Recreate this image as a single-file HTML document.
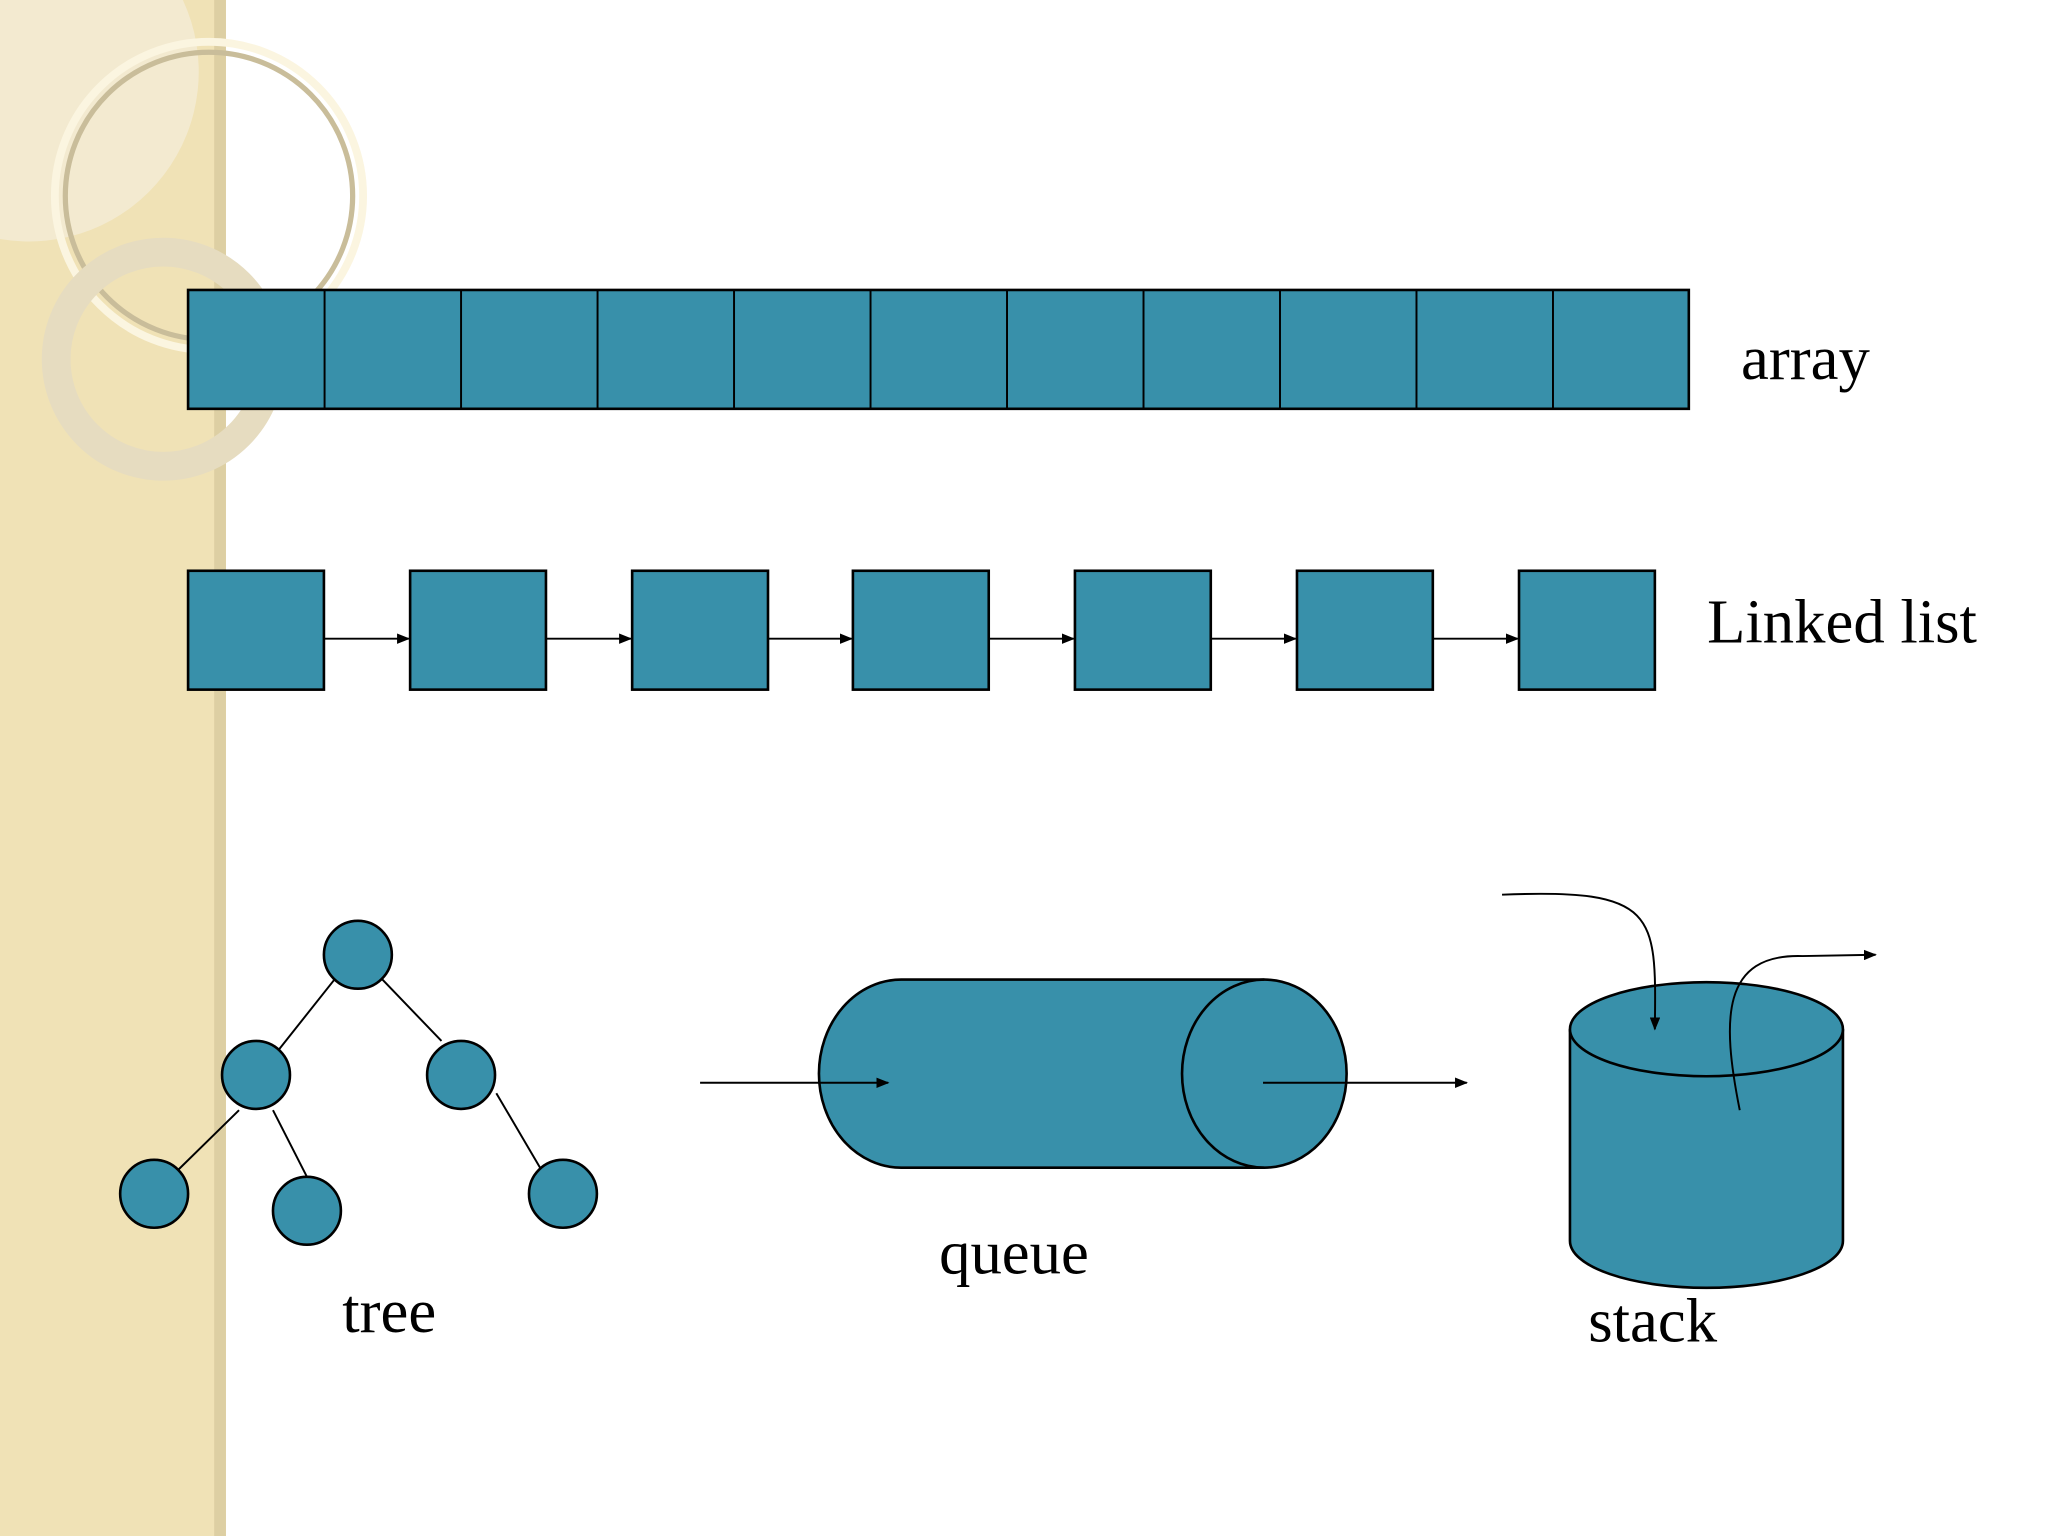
<!DOCTYPE html>
<html><head><meta charset="utf-8"><style>html,body{margin:0;padding:0;background:#fff}svg{display:block}</style></head><body>
<svg width="2048" height="1536" viewBox="0 0 1568 1176" xmlns="http://www.w3.org/2000/svg">
<defs><marker id="a" markerWidth="10" markerHeight="8" refX="9" refY="4" orient="auto" markerUnits="userSpaceOnUse"><path d="M0,0L10,4L0,8z" fill="#000"/></marker></defs>
<rect x="0" y="0" width="173" height="1176" fill="#f0e2b6"/>
<rect x="164" y="0" width="9" height="1176" fill="#ddcfa3"/>
<path d="M0,0 H140 A130,130 0 0 1 0,183 Z" fill="#f3ead0"/>
<circle cx="160" cy="150" r="118" fill="none" stroke="#fbf5e0" stroke-width="6"/>
<circle cx="160" cy="150" r="110" fill="none" stroke="#c9bd9a" stroke-width="4"/>
<circle cx="125" cy="275" r="82" fill="none" stroke="#e6dcc0" stroke-width="22"/>
<g fill="#3890aa" stroke="#000" stroke-width="2">
<rect x="144" y="222" width="1149" height="91"/>
</g>
<g stroke="#000" stroke-width="1.5">
<line x1="248.5" y1="222" x2="248.5" y2="313"/><line x1="353" y1="222" x2="353" y2="313"/><line x1="457.5" y1="222" x2="457.5" y2="313"/><line x1="562" y1="222" x2="562" y2="313"/><line x1="666.5" y1="222" x2="666.5" y2="313"/><line x1="771" y1="222" x2="771" y2="313"/><line x1="875.5" y1="222" x2="875.5" y2="313"/><line x1="980" y1="222" x2="980" y2="313"/><line x1="1084.5" y1="222" x2="1084.5" y2="313"/><line x1="1189" y1="222" x2="1189" y2="313"/>
</g>
<g fill="#3890aa" stroke="#000" stroke-width="2">
<rect x="144" y="437" width="104" height="91"/><rect x="314" y="437" width="104" height="91"/><rect x="484" y="437" width="104" height="91"/><rect x="653" y="437" width="104" height="91"/><rect x="823" y="437" width="104" height="91"/><rect x="993" y="437" width="104" height="91"/><rect x="1163" y="437" width="104" height="91"/>
</g>
<g stroke="#000" stroke-width="1.5" marker-end="url(#a)">
<line x1="248" y1="489" x2="313" y2="489"/><line x1="418" y1="489" x2="483" y2="489"/><line x1="588" y1="489" x2="652" y2="489"/><line x1="757" y1="489" x2="822" y2="489"/><line x1="927" y1="489" x2="992" y2="489"/><line x1="1097" y1="489" x2="1162" y2="489"/>
</g>
<g stroke="#000" stroke-width="1.5">
<line x1="260" y1="745" x2="210" y2="808"/><line x1="288" y1="745" x2="338" y2="797"/><line x1="183" y1="850" x2="132" y2="900"/><line x1="209" y1="850" x2="235" y2="901"/><line x1="380" y1="837" x2="417" y2="900"/>
</g>
<g fill="#3890aa" stroke="#000" stroke-width="2">
<circle cx="274" cy="731" r="26"/><circle cx="196" cy="823" r="26"/><circle cx="353" cy="823" r="26"/><circle cx="118" cy="914" r="26"/><circle cx="235" cy="927" r="26"/><circle cx="431" cy="914" r="26"/>
<path d="M690,750 L968,750 A63,72 0 0 1 968,894 L690,894 A63,72 0 0 1 690,750 Z"/>
<path d="M968,750 A63,72 0 0 0 968,894" fill="none"/>
<path d="M1202,788 V950 A104.5,36 0 0 0 1411,950 V788"/>
<ellipse cx="1306.5" cy="788" rx="104.5" ry="36"/>
</g>
<g stroke="#000" stroke-width="1.5" fill="none" marker-end="url(#a)">
<line x1="536" y1="829" x2="680" y2="829"/>
<line x1="967" y1="829" x2="1123" y2="829"/>
<path d="M1150,685 C1270,680 1268,700 1267,788"/>
<path d="M1332,850 C1318,780 1318,730 1380,732 L1436,731"/>
</g>
<g font-family="Liberation Serif, serif" font-size="48" fill="#000">
<text x="1333" y="290">array</text>
<text x="1307" y="492">Linked list</text>
<text x="262" y="1020">tree</text>
<text x="719" y="975">queue</text>
<text x="1216" y="1027">stack</text>
</g>
</svg>
</body></html>
